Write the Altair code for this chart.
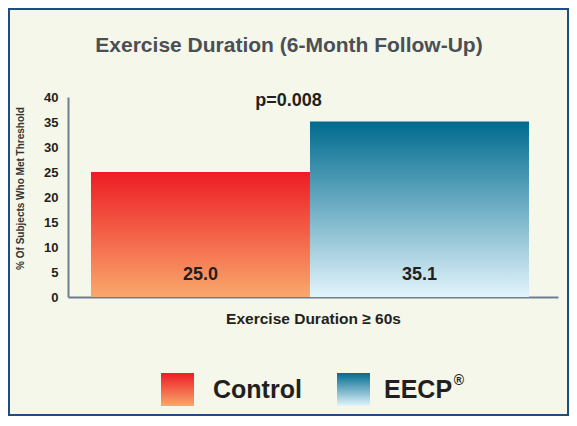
import altair as alt
import pandas as pd

# ---- data ----
groups = ["Control", "EECP"]
values = [25.0, 35.1]
value_labels = ["25.0", "35.1"]
y_ticks = [0, 5, 10, 15, 20, 25, 30, 35, 40]
title_text = "Exercise Duration (6-Month Follow-Up)"
p_text = "p=0.008"
x_title = "Exercise Duration \u2265 60s"
y_title = "% Of Subjects Who Met Threshold"
legend_names = ["Control", "EECP"]

# ---- styles ----
FONT = "Liberation Sans"
BG = "#F5F7EA"
AXIS_COLOR = "#707C93"
TEXT = "#231F20"
grad_colors = {
    "Control": ("#ED1C24", "#F9A86C"),
    "EECP": ("#006B8F", "#E3F4FC"),
}


def grad(top, bottom):
    return alt.Gradient(
        gradient="linear",
        stops=[alt.GradientStop(color=top, offset=0), alt.GradientStop(color=bottom, offset=1)],
        x1=0, x2=0, y1=0, y2=1,
    )


df = pd.DataFrame({"group": groups, "value": values, "label": value_labels})
one = alt.Data(values=[{"k": 1}])

W, H = 490, 200
PAD = {"left": 60, "top": 89, "right": 11, "bottom": 119}

xscale = alt.Scale(domain=groups, paddingInner=0, paddingOuter=0.1187, align=0.442)
x_enc = alt.X(
    "group:N", scale=xscale,
    axis=alt.Axis(
        title=x_title, labels=False, ticks=False, domainColor=AXIS_COLOR, domainWidth=2,
        titleFont=FONT, titleFontSize=15.5, titleFontWeight="bold", titleColor=TEXT,
        titleY=21, titleBaseline="middle",
    ),
)
y_enc = alt.Y(
    "value:Q", scale=alt.Scale(domain=[0, 40], nice=False),
    axis=alt.Axis(
        values=y_ticks, title=y_title, grid=False, ticks=False, domainColor=AXIS_COLOR, domainWidth=2,
        labelFont=FONT, labelFontSize=13, labelFontWeight="bold", labelColor=TEXT, labelPadding=10,
        titleFont=FONT, titleFontSize=10, titleFontWeight="bold", titleColor="#333333",
        titleX=-48, titleY=91, titleAngle=-90, titleAlign="center", titleBaseline="middle",
    ),
)

base = alt.Chart(df)
layers = []

# border
layers.append(
    alt.Chart(one).mark_rect(fill=None, stroke="#1D4E7F", strokeWidth=2).encode(
        x=alt.value(-59), x2=alt.value(W + PAD["right"] - 1),
        y=alt.value(-88), y2=alt.value(H + PAD["bottom"] - 1),
    )
)

for g in groups:
    top, bottom = grad_colors[g]
    layers.append(
        base.transform_filter(alt.datum.group == g)
        .mark_bar(color=grad(top, bottom))
        .encode(x=x_enc, y=y_enc)
    )

labels = base.mark_text(font=FONT, fontSize=18, fontWeight="bold", color=TEXT, baseline="middle").encode(
    x=x_enc, y=alt.value(178), text="label:N"
)
layers.append(labels)

# title and p-value
layers.append(
    alt.Chart(one).mark_text(font=FONT, fontSize=21, fontWeight="bold", color="#4A4F55", baseline="middle").encode(
        x=alt.value(221), y=alt.value(-51), text=alt.value(title_text)
    )
)
layers.append(
    alt.Chart(one).mark_text(font=FONT, fontSize=18, fontWeight="bold", color=TEXT, baseline="middle").encode(
        x=alt.value(220.5), y=alt.value(4), text=alt.value(p_text)
    )
)

# legend
swatch_x = {"Control": 93, "EECP": 269}
text_x = {"Control": 145, "EECP": 316}
for name in legend_names:
    top, bottom = grad_colors[name]
    layers.append(
        alt.Chart(one).mark_rect(color=grad(top, bottom)).encode(
            x=alt.value(swatch_x[name]), x2=alt.value(swatch_x[name] + 33),
            y=alt.value(276), y2=alt.value(309),
        )
    )
    layers.append(
        alt.Chart(one).mark_text(font=FONT, fontSize=25, fontWeight="bold", color=TEXT,
                                 baseline="middle", align="left").encode(
            x=alt.value(text_x[name]), y=alt.value(293), text=alt.value(name)
        )
    )
layers.append(
    alt.Chart(one).mark_text(font=FONT, fontSize=14, fontWeight="bold", color=TEXT,
                             baseline="middle", align="center").encode(
        x=alt.value(391), y=alt.value(284), text=alt.value("\u00ae")
    )
)

chart = alt.layer(*layers).properties(
    width=W, height=H, padding=PAD, autosize=alt.AutoSizeParams(type="none"), background=BG,
).configure_view(stroke=None)

chart.save("out.html", embed_options={"renderer": "svg", "actions": False})
